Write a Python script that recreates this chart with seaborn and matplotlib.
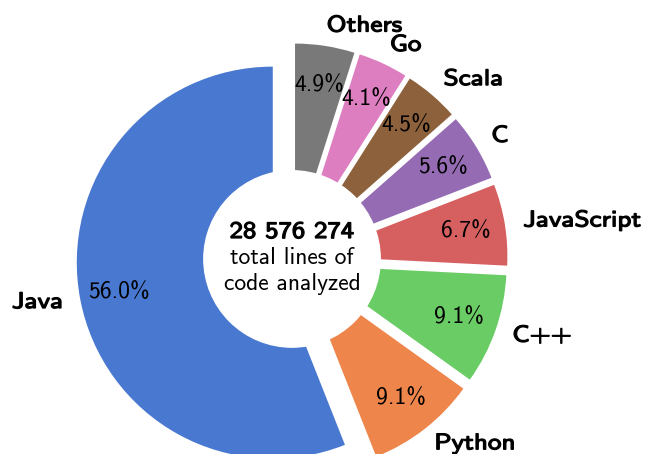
import matplotlib
matplotlib.use("Agg")
import matplotlib.pyplot as plt
from matplotlib.textpath import TextPath
from matplotlib.patches import PathPatch
from matplotlib.font_manager import FontProperties
from matplotlib.transforms import Affine2D
import seaborn as sns

# Data (shares in percent)
languages = ['Java', 'Python', 'C++', 'JavaScript', 'C', 'Scala', 'Go', 'Others']
shares = [56.0, 9.1, 9.1, 6.7, 5.6, 4.5, 4.1, 4.9]
total_lines = '28 576 274'
center_lines = ['total lines of', 'code analyzed']

colors = sns.color_palette('muted', len(languages))
plt.rcParams['font.family'] = ['cmss10', 'DejaVu Sans']
plt.rcParams['axes.unicode_minus'] = False

PX_PER_UNIT = 196.0
fp = FontProperties(family='cmss10')


def wide_text(ax, x, y, s, size, ha='center', sx=1.2, lw=0.9, baseline=False):
    """Bold-ish, slightly extended sans text (stand-in for CM sans bold)."""
    em = size * 100 / 72 / PX_PER_UNIT
    tp = TextPath((0, 0), s, size=em, prop=fp)
    ext = tp.get_extents()
    w = ext.width * sx
    if ha == 'left':
        x0 = x - ext.x0 * sx
    elif ha == 'right':
        x0 = x - ext.x0 * sx - w
    else:
        x0 = x - ext.x0 * sx - w / 2
    y0 = y if baseline else y - 0.22 * em
    path = Affine2D().scale(sx, 1).translate(x0, y0).transform_path(tp)
    ax.add_patch(PathPatch(path, facecolor='black', edgecolor='black',
                           lw=lw, zorder=5))


fig = plt.figure(figsize=(6.46, 4.54), dpi=100)
ax = fig.add_axes([0, 0, 1, 1])

wedges, texts, autotexts = ax.pie(
    shares, labels=languages, colors=colors, startangle=90,
    explode=[0.1] * len(shares), autopct='%1.1f%%', pctdistance=0.8,
    labeldistance=1.1, textprops={'fontsize': 17, 'color': 'black'})

for t in texts:
    x, y = t.get_position()
    wide_text(ax, x, y, t.get_text(), 16.3, ha=t.get_ha(), sx=1.2)
    t.set_visible(False)

ax.add_patch(plt.Circle((0, 0), 0.45, color='white', zorder=3))
wide_text(ax, 0, 0.107, total_lines, 17, ha='center', sx=1.13, baseline=True)
ax.text(0, -0.026, center_lines[0], ha='center', va='baseline', fontsize=17, zorder=4)
ax.text(0, -0.158, center_lines[1], ha='center', va='baseline', fontsize=17, zorder=4)

ax.set_xlim(-1.490, 1.806)
ax.set_ylim(-0.995, 1.321)
ax.set_aspect('equal')
ax.axis('off')

fig.savefig('out.png', dpi=100)
